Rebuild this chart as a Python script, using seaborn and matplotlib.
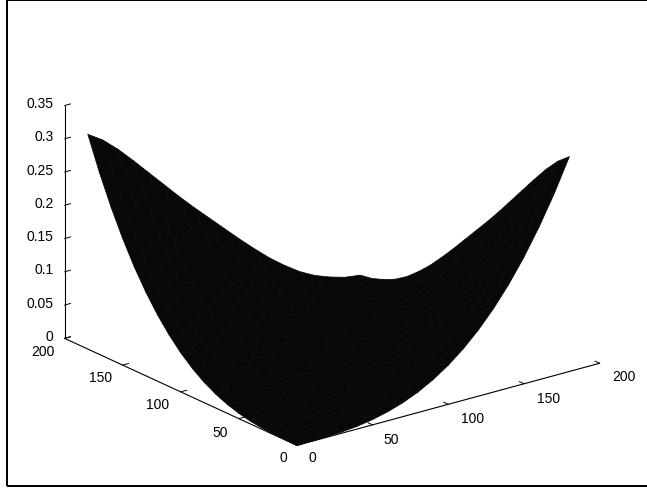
import numpy as np
import matplotlib
matplotlib.use("Agg")
import matplotlib.pyplot as plt
from matplotlib.patches import Rectangle
from mpl_toolkits.mplot3d import proj3d
import seaborn as sns

# grid positions along both horizontal axes
grid_x = [0, 10, 20, 30, 40, 50, 60, 70, 80, 90, 100, 110, 120, 130, 140, 150, 160, 170, 180]
grid_y = [0, 10, 20, 30, 40, 50, 60, 70, 80, 90, 100, 110, 120, 130, 140, 150, 160, 170, 180]
# surface heights (upper triangle, x index <= y index)
row_0 = [0, .0001, .0006, .0018, .0041, .0079, .0134, .0209, .0307, .0433, .0587, .0775, .0997, .1257, .1558, .1904, .2296, .2736, .323]
row_1 = [0, .0003, .0012, .0029, .006, .0108, .0175, .0266, .038, .0525, .0699, .0907, .1153, .144, .1771, .2153, .2588, .308]
row_2 = [0, .0004, .0017, .004, .0078, .0137, .0217, .0322, .0454, .0617, .081, .1039, .1308, .1622, .1984, .2401, .288]
row_3 = [0, .0006, .0023, .005, .0097, .0166, .0258, .0379, .0527, .0709, .0922, .1171, .1464, .1805, .2197, .265]
row_4 = [0, .0008, .0028, .0061, .0115, .0195, .0299, .0435, .06, .0801, .1033, .1303, .1619, .1988, .241]
row_5 = [0, .001, .0034, .0072, .0134, .0224, .0341, .0492, .0674, .0893, .1145, .1436, .1775, .217]
row_6 = [0, .0011, .004, .0083, .0152, .0252, .0382, .0548, .0747, .0984, .1257, .1568, .193]
row_7 = [0, .0013, .0045, .0094, .017, .0281, .0423, .0605, .082, .1076, .1368, .17]
row_8 = [0, .0015, .0051, .0104, .0189, .031, .0464, .0661, .0893, .1168, .148]
row_9 = [0, .0016, .0056, .0115, .0208, .0339, .0506, .0718, .0967, .126]
row_10 = [0, .0018, .0062, .0126, .0226, .0368, .0547, .0774, .104]
row_11 = [0, .002, .0068, .0137, .0245, .0397, .0588, .083]
row_12 = [0, .0021, .0073, .0148, .0263, .0426, .063]
row_13 = [0, .0023, .0079, .0158, .0282, .0455]
row_14 = [0, .0025, .0084, .0169, .03]
row_15 = [0, .0027, .009, .018]
row_16 = [0, .0028, .0095]
row_17 = [0, .003]
row_18 = [0]
rows = [row_0, row_1, row_2, row_3, row_4, row_5, row_6, row_7, row_8, row_9,
        row_10, row_11, row_12, row_13, row_14, row_15, row_16, row_17, row_18]
x_ticks = [0, 50, 100, 150, 200]
y_ticks = [0, 50, 100, 150, 200]
z_ticks = [0, 0.05, 0.1, 0.15, 0.2, 0.25, 0.3, 0.35]
z_labels = ["0", "0.05", "0.1", "0.15", "0.2", "0.25", "0.3", "0.35"]

sns.set_theme(style="white", rc={"font.family": ["Liberation Sans", "DejaVu Sans"],
                                 "font.size": 10})

Z = np.zeros((19, 19))
for i, r in enumerate(rows):
    for k, v in enumerate(r):
        Z[i, i + k] = v
        Z[i + k, i] = v
X, Y = np.meshgrid(grid_x, grid_y)

W, H = 647, 489
fig = plt.figure(figsize=(W / 100, H / 100), dpi=100, facecolor="white")
ax = fig.add_axes([2 / W, 2.5 / H, 1, 1], projection="3d", proj_type="ortho", facecolor="none")
ax.plot_surface(X, Y, Z, color="#080808", shade=False, rstride=1, cstride=1,
                edgecolor="#080808", linewidth=0.5, antialiased=True)
ax.view_init(elev=20.7, azim=-127.5)
ax.set_xlim(0, 200)
ax.set_ylim(0, 200)
ax.set_zlim(0, 0.35)
ax.set_box_aspect((1, 1, 0.652), zoom=1.18)
ax.set_xticks(x_ticks)
ax.set_yticks(y_ticks)
ax.set_zticks(z_ticks)
ax.set_zticklabels(z_labels)
ax.grid(False)


def place_label(tick, anchor, dx, dy):
    """Keep a native tick label at a pixel offset from its tick on the axis line."""
    original = tick.label1.set_position
    tick.label1.set_va("center")

    def shifted(_pos):
        px, py, _ = proj3d.proj_transform(*anchor, ax.M)
        disp = ax.transData.transform((px, py)) + np.array([dx, dy])
        original(ax.transData.inverted().transform(disp))

    tick.label1.set_position = shifted


for a in (ax.xaxis, ax.yaxis, ax.zaxis):
    a.set_pane_color((1, 1, 1, 0))
    a.pane.set_edgecolor((1, 1, 1, 0))
    a.line.set_color("black")
    a.line.set_linewidth(0.8)
    a._axinfo["tick"]["inward_factor"] = 0.0
    a._axinfo["tick"]["outward_factor"] = 0.25
    a._axinfo["tick"]["linewidth"] = {True: 0.7, False: 0.5}
    a.set_tick_params(labelsize=10, colors="black", pad=0)

x_off = [(15, -12), (19, -14), (24, -13.5), (24.5, -14), (24, -13)]
y_off = [(-14, -12), (-19, -13), (-23, -12.5), (-22, -12), (-22, -13)]
for t, v, off in zip(ax.xaxis.get_major_ticks(), x_ticks, x_off):
    place_label(t, (v, 0, 0), *off)
for t, v, off in zip(ax.yaxis.get_major_ticks(), y_ticks, y_off):
    place_label(t, (0, v, 0), *off)
for t, v in zip(ax.zaxis.get_major_ticks(), z_ticks):
    t.label1.set_ha("right")
    place_label(t, (0, 200, v), -11, 2.5)

fig.add_artist(Rectangle((7 / W, 1 - 487 / H), 660 / W, 486 / H,
                         transform=fig.transFigure, fill=False, edgecolor="black",
                         linewidth=1.44))
fig.savefig("out.png", dpi=100)
